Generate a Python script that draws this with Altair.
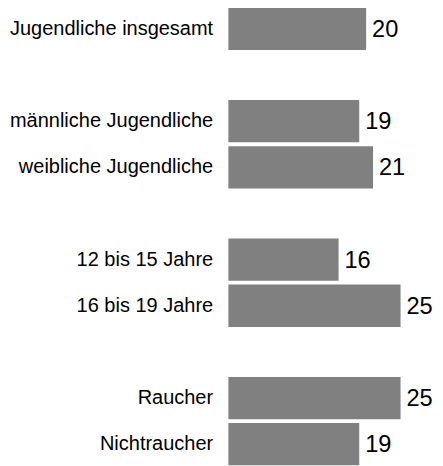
import altair as alt
import pandas as pd

categories = ["Jugendliche insgesamt", " ", "männliche Jugendliche", "weibliche Jugendliche",
              "  ", "12 bis 15 Jahre", "16 bis 19 Jahre", "   ", "Raucher", "Nichtraucher"]
values = [20, None, 19, 21, None, 16, 25, None, 25, 19]

df = pd.DataFrame({"cat": categories, "val": values})
bars_df = df.dropna()

y = alt.Y("cat:N", sort=categories,
          scale=alt.Scale(domain=categories, range=[-5.95, 463.05], paddingInner=0.083, paddingOuter=0.0415),
          axis=alt.Axis(title=None, ticks=False, domain=False, labelPadding=16,
                        labelFont="Liberation Sans", labelFontSize=20.3, labelColor="#000000",
                        labelLimit=300))
x = alt.X("val:Q", scale=alt.Scale(domain=[0, 30]), axis=None)

base = alt.Chart(bars_df)
bars = base.mark_bar(color="#808080").encode(x=x, y=y)
labels = base.mark_text(align="left", baseline="middle", dx=6, dy=1, font="Liberation Sans",
                        fontSize=24, color="#000000").encode(x=x, y=y, text="val:Q")

chart = (bars + labels).properties(
    width=210, height=458,
    autosize=alt.AutoSizeParams(type="none"),
    padding={"left": 224, "top": 0, "right": 0, "bottom": 0},
).configure_view(stroke=None)

chart.save("out.html", embed_options={"renderer": "svg", "actions": False})
